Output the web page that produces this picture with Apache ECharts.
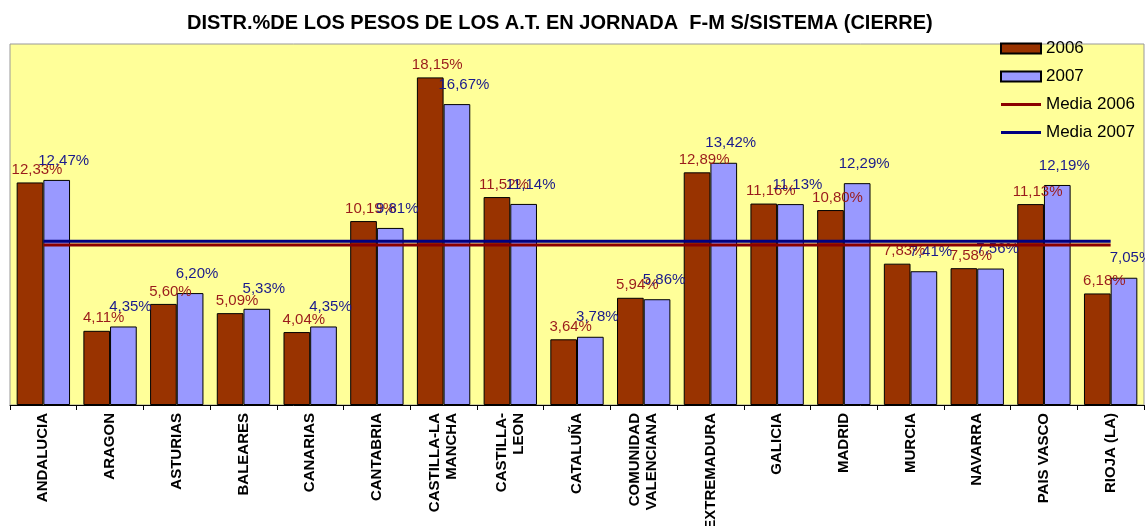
<!DOCTYPE html>
<html>
<head>
<meta charset="utf-8">
<script src="https://cdn.jsdelivr.net/npm/echarts@6/dist/echarts.min.js"></script>
<style>
html,body{margin:0;padding:0;background:#fff;}
#chart{width:1145px;height:526px;}
</style>
</head>
<body>
<div id="chart"></div>
<script>
const categories = ['ANDALUCIA','ARAGON','ASTURIAS','BALEARES','CANARIAS','CANTABRIA','CASTILLA-LA\nMANCHA','CASTILLA-\nLEON','CATALUÑA','COMUNIDAD\nVALENCIANA','EXTREMADURA','GALICIA','MADRID','MURCIA','NAVARRA','PAIS VASCO','RIOJA (LA)'];
const values2006 = [12.33,4.11,5.60,5.09,4.04,10.19,18.15,11.52,3.64,5.94,12.89,11.16,10.80,7.83,7.58,11.13,6.18];
const values2007 = [12.47,4.35,6.20,5.33,4.35,9.81,16.67,11.14,3.78,5.86,13.42,11.13,12.29,7.41,7.56,12.19,7.05];
const media2006 = [8.86,8.86,8.86,8.86,8.86,8.86,8.86,8.86,8.86,8.86,8.86,8.86,8.86,8.86,8.86,8.86,8.86];
const media2007 = [9.07,9.07,9.07,9.07,9.07,9.07,9.07,9.07,9.07,9.07,9.07,9.07,9.07,9.07,9.07,9.07,9.07];
const seriesNames = ['2006','2007','Media 2006','Media 2007'];
const titleText = 'DISTR.%DE LOS PESOS DE LOS A.T. EN JORNADA  F-M S/SISTEMA (CIERRE)';

const FONT = 'Liberation Sans, Arial, sans-serif';
const fmt = p => p.value.toFixed(2).replace('.', ',') + '%';
const LINE_ICON = 'path://M0,0 M40,10 M0,3.5 L40,3.5 L40,6.5 L0,6.5 Z';

const chart = echarts.init(document.getElementById('chart'));
chart.setOption({
  animation: false,
  backgroundColor: '#ffffff',
  title: {
    text: titleText,
    left: 182, top: 8,
    textStyle: {fontFamily: FONT, fontSize: 20, fontWeight: 'bold', color: '#000'}
  },
  legend: {
    orient: 'vertical',
    left: 995, top: 35,
    itemWidth: 40, itemHeight: 10, itemGap: 11,
    textStyle: {fontFamily: FONT, fontSize: 17, color: '#000'},
    data: [
      {name: seriesNames[0], icon: 'rect'},
      {name: seriesNames[1], icon: 'rect'},
      {name: seriesNames[2], icon: LINE_ICON},
      {name: seriesNames[3], icon: LINE_ICON}
    ]
  },
  grid: {
    left: 10, right: 1, top: 44, bottom: 121,
    containLabel: false, outerBoundsMode: 'none',
    show: true, backgroundColor: '#FFFF99', borderColor: '#999', borderWidth: 1
  },
  xAxis: {
    type: 'category',
    data: categories,
    axisLine: {lineStyle: {color: '#000', width: 1}},
    axisTick: {show: true, interval: 0, length: 5, lineStyle: {color: '#000'}},
    axisLabel: {
      interval: 0, rotate: 90, margin: 8,
      fontFamily: FONT, fontSize: 15, fontWeight: 'bold', color: '#000', lineHeight: 17
    }
  },
  yAxis: {
    type: 'value', min: 0, max: 20,
    axisLabel: {show: false}, axisTick: {show: false},
    axisLine: {show: false}, splitLine: {show: false}
  },
  series: [
    {
      name: '2006', type: 'bar', data: values2006,
      barGap: '0%', barCategoryGap: '20%',
      itemStyle: {color: '#993300', borderColor: '#000', borderWidth: 1},
      label: {show: true, position: 'top', distance: 5, offset: [7, 0], formatter: fmt,
        fontFamily: FONT, fontSize: 15, color: '#9A1B1B'}
    },
    {
      name: '2007', type: 'bar', data: values2007,
      barGap: '0%', barCategoryGap: '20%',
      itemStyle: {color: '#9999FF', borderColor: '#000', borderWidth: 1},
      label: {show: true, position: 'top', distance: 12, offset: [7, 0], formatter: fmt,
        fontFamily: FONT, fontSize: 15, color: '#1A1A8C'}
    },
    {
      name: 'Media 2006', type: 'line', data: media2006, symbol: 'none',
      lineStyle: {color: '#8B0000', width: 3}, itemStyle: {color: '#8B0000'}, z: 3
    },
    {
      name: 'Media 2007', type: 'line', data: media2007, symbol: 'none',
      lineStyle: {color: '#000080', width: 3}, itemStyle: {color: '#000080'}, z: 3
    }
  ]
});
</script>
</body>
</html>
